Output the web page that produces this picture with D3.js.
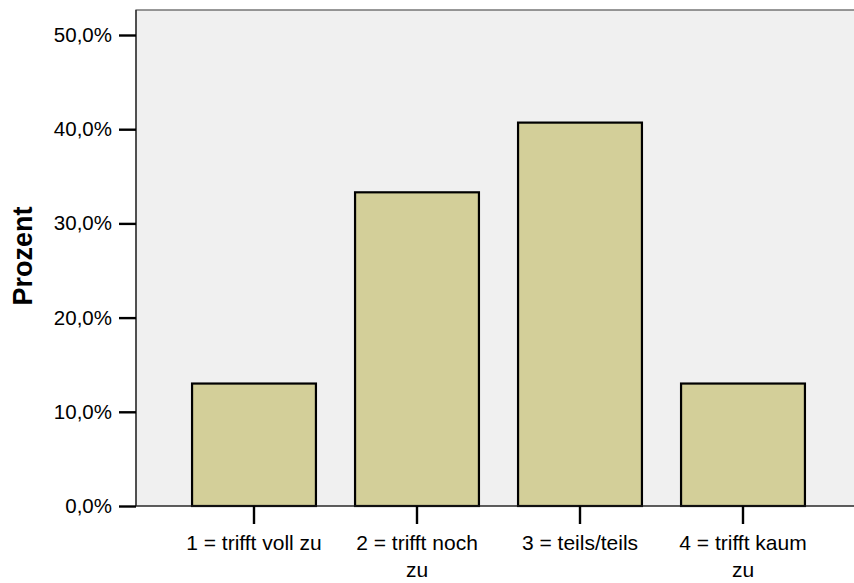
<!DOCTYPE html>
<html>
<head>
<meta charset="utf-8">
<script src="https://cdn.jsdelivr.net/npm/d3@7/dist/d3.min.js"></script>
<style>
  html, body { margin: 0; padding: 0; background: #ffffff; }
  svg { display: block; }
  text { font-family: Arial, "Liberation Sans", sans-serif; fill: #000; }
</style>
</head>
<body>
<svg id="chart" width="854" height="583"></svg>
<script>
const categories = ["1 = trifft voll zu", "2 = trifft noch zu", "3 = teils/teils", "4 = trifft kaum zu"];
const percents = [13.0, 33.3, 40.7, 13.0];
const yTicks = [0, 10, 20, 30, 40, 50];
const yLabel = "Prozent";

const svg = d3.select("#chart");
const plot = { left: 136, right: 861, top: 10, bottom: 506 };

const y = d3.scaleLinear().domain([0, 50]).range([506, 35]);
const x = d3.scaleBand().domain(categories)
  .range([172.5, 824.5]).paddingInner(0.24).paddingOuter(0.12);

svg.append("rect")
  .attr("x", plot.left).attr("y", plot.top)
  .attr("width", plot.right - plot.left).attr("height", plot.bottom - plot.top)
  .attr("fill", "#f0f0f0").attr("stroke", "#555").attr("stroke-width", 1.2);

svg.append("g").selectAll("rect").data(percents).join("rect")
  .attr("x", (d, i) => x(categories[i]))
  .attr("y", d => y(d))
  .attr("width", x.bandwidth())
  .attr("height", d => y(0) - y(d))
  .attr("fill", "#d3cf99")
  .attr("stroke", "#000").attr("stroke-width", 2.2);

const yAxis = d3.axisLeft(y).tickValues(yTicks).tickSize(17).tickPadding(7)
  .tickFormat(d => d3.format(".1f")(d).replace(".", ",") + "%");
const gy = svg.append("g").attr("transform", `translate(${plot.left},0)`).call(yAxis);
gy.attr("font-size", null).attr("font-family", null);
gy.select(".domain").attr("d", `M0,${plot.top}V${plot.bottom}`).attr("stroke", "#222").attr("stroke-width", 1.2);
gy.selectAll(".tick line").attr("stroke", "#000").attr("stroke-width", 2.4);
gy.selectAll(".tick text").style("font-size", "20.5px").attr("fill", "#000");

const xAxis = d3.axisBottom(x).tickSize(18).tickPadding(8);
const gx = svg.append("g").attr("transform", `translate(0,${plot.bottom})`).call(xAxis);
gx.attr("font-size", null).attr("font-family", null);
gx.select(".domain").attr("d", `M${plot.left},0H${plot.right}`).attr("stroke", "#222").attr("stroke-width", 1.2);
gx.selectAll(".tick line").attr("stroke", "#000").attr("stroke-width", 2.4);
gx.selectAll(".tick text")
  .style("font-size", "21px").attr("fill", "#000")
  .each(function(d) {
    const t = d3.select(this);
    const words = d.split(" ");
    t.text(null);
    let line = [];
    let lineNo = 0;
    let tspan = t.append("tspan").attr("x", 0).attr("y", 44);
    for (const w of words) {
      line.push(w);
      tspan.text(line.join(" "));
      if (tspan.node().getComputedTextLength() > 142 && line.length > 1) {
        line.pop();
        tspan.text(line.join(" "));
        line = [w];
        lineNo++;
        tspan = t.append("tspan").attr("x", 0).attr("y", 44 + lineNo * 26.7).text(w);
      }
    }
  });
gx.selectAll(".tick text").attr("dy", null);

svg.append("text")
  .attr("transform", "translate(32,256) rotate(-90)")
  .attr("text-anchor", "middle")
  .style("font-size", "27px").style("font-weight", "bold")
  .text(yLabel);
</script>
</body>
</html>
